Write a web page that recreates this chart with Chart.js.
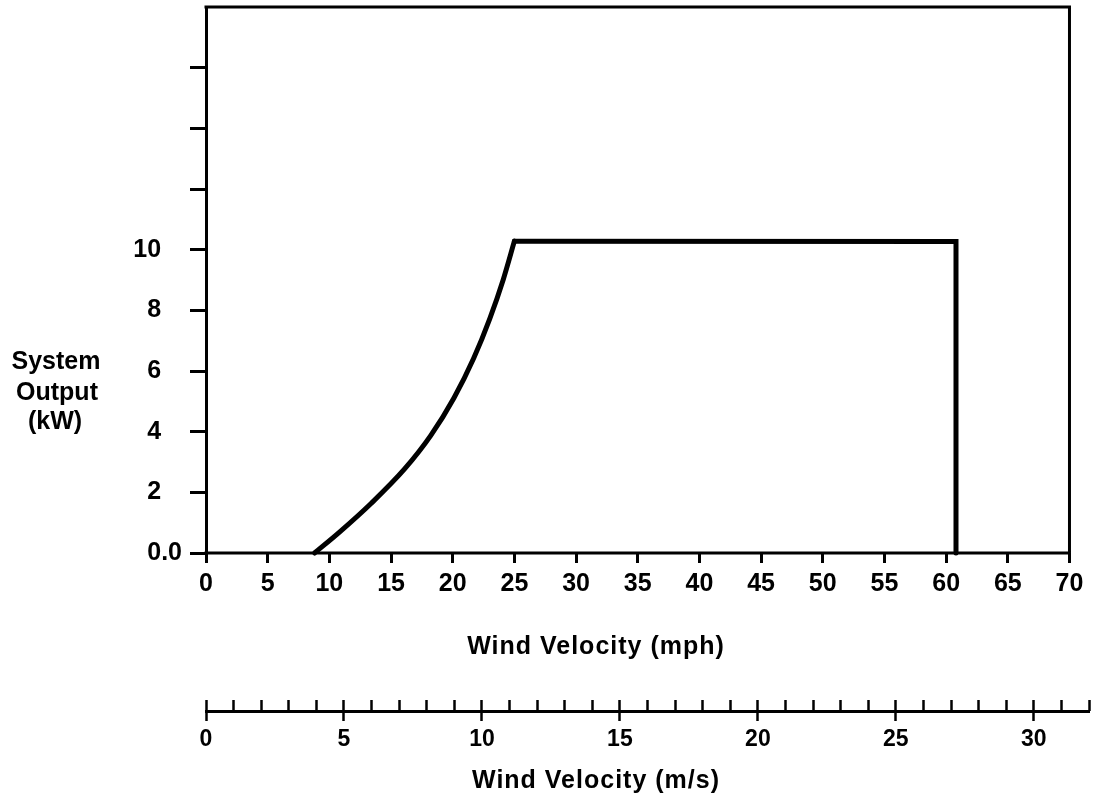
<!DOCTYPE html>
<html>
<head>
<meta charset="utf-8">
<title>System Output vs Wind Velocity</title>
<script src="https://cdn.jsdelivr.net/npm/chart.js@4.4.1/dist/chart.umd.min.js"></script>
<style>
  html, body { margin: 0; padding: 0; background: #fff; }
  #wrap { position: relative; width: 1094px; height: 803px; }
</style>
</head>
<body>
<div id="wrap"><canvas id="powerChart"></canvas></div>
<script>
// rising part of the power curve
const riseMph = [8.8, 10.8, 13.4, 16.1, 18.2, 20.1, 21.7, 23.0, 24.1, 25.0];
const riseKw  = [0, 0.68, 1.64, 2.77, 3.86, 5.11, 6.42, 7.72, 9.02, 10.28];

// rated output up to cut-out, then straight down to zero
const ratedMph = [25.0, 60.8, 60.8];
const ratedKw  = [10.28, 10.27, 0];

// tick labels
const kwLabels = [0, 2, 4, 6, 8, 10];
const mphLabels = [0, 5, 10, 15, 20, 25, 30, 35, 40, 45, 50, 55, 60, 65, 70];
const msLabels = [0, 5, 10, 15, 20, 25, 30];

const MPH_PER_MS = 2.23694;
const xMax = 70;   // right edge of the plot box (mph)
const yMax = 18;   // top edge of the plot box (kW)
const msMax = 32;  // m/s scale runs a little past the box

const FONT = "'Liberation Sans', Arial, Helvetica, sans-serif";
const INK = '#000';

Chart.defaults.font.family = FONT;
Chart.defaults.color = INK;

const toPoints = (xs, ys) => xs.map((x, i) => ({ x: x, y: ys[i] }));

// horizontal y title and the two x titles
const titles = {
  id: 'titles',
  afterDraw(chart) {
    const ctx = chart.ctx;
    const area = chart.chartArea;
    const y = chart.scales.y;
    ctx.save();
    ctx.fillStyle = INK;
    ctx.textAlign = 'center';
    ctx.textBaseline = 'alphabetic';
    ctx.font = 'bold 25px ' + FONT;

    const base = y.getPixelForValue(6) - 2;
    ctx.fillText('System', area.left - 150, base);
    ctx.fillText('Output', area.left - 149, base + 31);
    ctx.fillText('(kW)', area.left - 151, base + 60);

    ctx.letterSpacing = '1px';
    ctx.fillText('Wind Velocity (mph)', area.left + 390, chart.scales.x.top + 101);
    ctx.fillText('Wind Velocity (m/s)', area.left + 390, chart.scales.msMajor.top + 77);
    ctx.restore();
  }
};

const noPad = s => { s.paddingLeft = 0; s.paddingRight = 0; s.paddingTop = 0; s.paddingBottom = 0; };

new Chart(document.getElementById('powerChart'), {
  type: 'line',
  data: {
    datasets: [
      {
        // plot box: top, right and bottom sides
        data: toPoints([0, xMax, xMax, 0], [yMax, yMax, 0, 0]),
        borderColor: INK,
        borderWidth: 3,
        borderJoinStyle: 'miter',
        borderCapStyle: 'square',
        pointRadius: 0,
        tension: 0,
        clip: false
      },
      {
        data: toPoints(riseMph, riseKw),
        borderColor: INK,
        borderWidth: 5,
        borderCapStyle: 'round',
        cubicInterpolationMode: 'monotone',
        pointRadius: 0,
        clip: false
      },
      {
        data: toPoints(ratedMph, ratedKw),
        borderColor: INK,
        borderWidth: 5,
        borderCapStyle: 'round',
        borderJoinStyle: 'miter',
        pointRadius: 0,
        tension: 0,
        clip: false
      }
    ]
  },
  options: {
    responsive: true,
    maintainAspectRatio: false,
    animation: false,
    layout: { padding: { top: 7, right: 5, bottom: 0, left: 0 } },
    plugins: { legend: { display: false }, tooltip: { enabled: false } },
    scales: {
      x: {
        type: 'linear',
        position: 'bottom',
        weight: 0,
        min: 0,
        max: msMax * MPH_PER_MS,
        ticks: {
          stepSize: 5,
          includeBounds: false,
          autoSkip: false,
          maxRotation: 0,
          padding: 6,
          font: { size: 25, weight: 'bold' },
          callback: v => mphLabels.includes(v) ? String(v) : ''
        },
        grid: { drawOnChartArea: false, tickLength: 10, tickWidth: 3, tickColor: INK },
        border: { display: false },
        afterFit: s => { s.height = 158; noPad(s); }
      },
      msMinor: {
        type: 'linear',
        position: 'bottom',
        weight: 1,
        min: 0,
        max: msMax,
        ticks: { stepSize: 1, includeBounds: false, autoSkip: false, maxRotation: 0, callback: () => '' },
        grid: { drawOnChartArea: false, tickLength: -11, tickWidth: 2.5, tickColor: INK },
        border: { display: false },
        afterFit: s => { s.height = 0; noPad(s); }
      },
      msMajor: {
        type: 'linear',
        position: 'bottom',
        weight: 2,
        min: 0,
        max: msMax,
        ticks: {
          stepSize: 5,
          includeBounds: false,
          autoSkip: false,
          maxRotation: 0,
          padding: 5,
          font: { size: 23, weight: 'bold' },
          callback: v => msLabels.includes(v) ? String(v) : ''
        },
        grid: { drawOnChartArea: false, tickLength: 10, tickWidth: 2.5, tickColor: INK },
        border: { display: true, width: 3, color: INK },
        afterFit: s => { s.height = 92; noPad(s); }
      },
      y: {
        type: 'linear',
        position: 'left',
        min: 0,
        max: yMax,
        ticks: {
          stepSize: 2,
          padding: 8,
          font: { size: 25, weight: 'bold' },
          // 0.0 sits closer to its tick than the other labels
          callback: v => v === 0 ? '0.0' : (kwLabels.includes(v) ? v + '   ' : '')
        },
        grid: {
          drawOnChartArea: false,
          tickLength: 16,
          tickWidth: 3,
          tickColor: c => (c.tick && c.tick.value === yMax) ? 'rgba(0,0,0,0)' : INK
        },
        border: { display: true, width: 3, color: INK },
        afterFit: s => { s.width = 206; noPad(s); }
      }
    }
  },
  plugins: [titles]
});
</script>
</body>
</html>
